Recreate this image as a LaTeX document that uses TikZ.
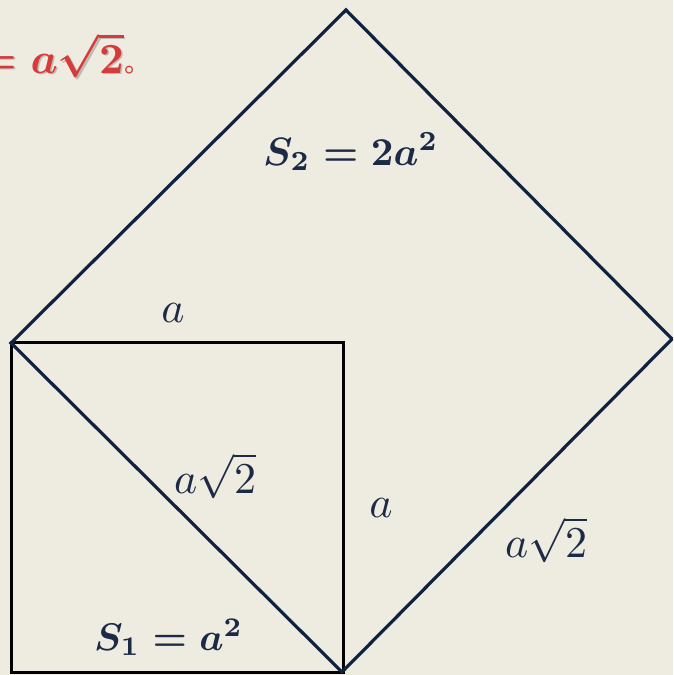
\documentclass[tikz,border=0pt]{standalone}
\usepackage{amsmath}
\usepackage{graphicx}
\usepackage{fontspec}
\newfontfamily\cjk{Noto Sans CJK SC}
\definecolor{bgc}{HTML}{EEEBE1}
\definecolor{navy}{HTML}{0F2340}
\definecolor{txt}{HTML}{1C2A45}
\definecolor{redt}{HTML}{D63A3A}
\newcommand{\myscl}[2]{\scalebox{#1}{#2}}
\tikzset{
  lbl/.style={inner sep=0pt, text=txt},
  redlbl/.style={inner sep=0pt, text=redt},
  shadowlbl/.style={inner sep=0pt, text=black!45, opacity=0.5},
  sqline/.style={draw=black, line width=3pt},
  dmline/.style={draw=navy, line width=3.2pt, line join=miter}
}
\begin{document}
\begin{tikzpicture}[x=1pt,y=-1pt]
\fill[bgc] (0,0) rectangle (673,675);
\useasboundingbox (0,0) rectangle (673,675);
\clip (0,0) rectangle (673,675);
% square
\coordinate (sqTL) at (11,342);
\coordinate (sqBR) at (343,672);
\draw[sqline] (sqTL) rectangle (sqBR);
% diamond
\coordinate (L) at (11,343);
\coordinate (T) at (346,10);
\coordinate (R) at (672,339);
\coordinate (B) at (342,672);
\draw[dmline] (L) -- (T) -- (R) -- (B) -- cycle;
% labels
\node[lbl, anchor=base west] (s2) at (263,165) {\myscl{3.95}{\boldmath$S_2=2a^2$}};
\node[lbl, anchor=base west] (s1) at (94,650) {\myscl{3.85}{\boldmath$S_1=a^2$}};
\node[lbl, anchor=base] (atop) at (173,322) {\myscl{4.4}{$a$}};
\node[lbl, anchor=base west] (diag) at (174,493) {\myscl{4.4}{$a\sqrt{2}$}};
\node[lbl, anchor=base] (aright) at (381,517) {\myscl{4.4}{$a$}};
\node[lbl, anchor=base west] (dright) at (505,557) {\myscl{4.4}{$a\sqrt{2}$}};
% red text (cut off at left)
\node[shadowlbl, anchor=base east] (redsh) at (125.5,74.5) {\myscl{4.3}{\boldmath$=a\sqrt{2}$}};
\node[redlbl, anchor=base east] (red) at (124,73) {\myscl{4.3}{\boldmath$=a\sqrt{2}$}};
\node[inner sep=0pt, anchor=base west, text=redt, font=\cjk] (dot) at (124,72) {\myscl{2.6}{。}};
\end{tikzpicture}
\end{document}
